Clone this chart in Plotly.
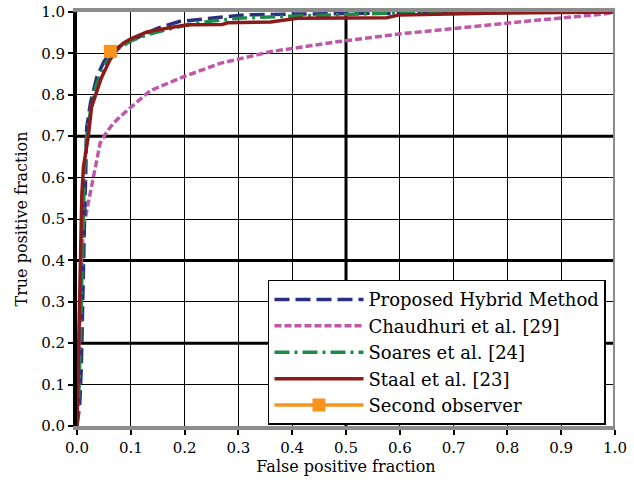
import plotly.graph_objects as go

# ---- data ----
hybrid_fpr = [0, 0.005, 0.008, 0.01, 0.012, 0.014, 0.016, 0.018, 0.025, 0.037, 0.05, 0.061, 0.08, 0.1, 0.125, 0.148, 0.19, 0.25, 0.31, 0.4, 0.5, 0.65, 0.8, 1.0]
hybrid_tpr = [0, 0.05, 0.14, 0.3, 0.4, 0.5, 0.6, 0.72, 0.78, 0.844, 0.88, 0.90, 0.918, 0.93, 0.945, 0.96, 0.977, 0.985, 0.993, 0.995, 0.997, 0.998, 1.0, 1.0]

chaud_fpr = [0, 0.002, 0.003, 0.005, 0.008, 0.012, 0.018, 0.024, 0.033, 0.043, 0.055, 0.067, 0.08, 0.1, 0.136, 0.197, 0.266, 0.359, 0.483, 0.606, 0.73, 0.854, 0.978, 1.0]
chaud_tpr = [0, 0.1, 0.2, 0.3, 0.4, 0.48, 0.52, 0.56, 0.626, 0.683, 0.71, 0.73, 0.747, 0.77, 0.81, 0.843, 0.876, 0.904, 0.928, 0.948, 0.965, 0.98, 0.995, 1.0]

soares_fpr = [0, 0.004, 0.008, 0.011, 0.014, 0.018, 0.025, 0.035, 0.05, 0.065, 0.08, 0.1, 0.13, 0.16, 0.2, 0.25, 0.3, 0.4, 0.5, 0.6, 0.75, 1.0]
soares_tpr = [0, 0.1, 0.3, 0.5, 0.62, 0.7, 0.76, 0.82, 0.87, 0.895, 0.915, 0.93, 0.945, 0.955, 0.968, 0.978, 0.985, 0.99, 0.995, 0.998, 1.0, 1.0]

staal_fpr = [0, 0.0025, 0.006, 0.009, 0.012, 0.021, 0.027, 0.035, 0.045, 0.061, 0.075, 0.086, 0.1, 0.13, 0.16, 0.185, 0.21, 0.27, 0.28, 0.36, 0.41, 0.575, 0.6, 0.76, 1.0]
staal_tpr = [0, 0.143, 0.385, 0.56, 0.626, 0.70, 0.77, 0.8, 0.84, 0.884, 0.91, 0.925, 0.935, 0.952, 0.96, 0.965, 0.969, 0.97, 0.974, 0.976, 0.985, 0.986, 0.993, 0.997, 1.0]

observer_fpr = [0.062]
observer_tpr = [0.905]

tick_vals = [round(i * 0.1, 1) for i in range(11)]
tick_text = [f"{v:.1f}" for v in tick_vals]
thick_y = [0.2, 0.4, 0.7]
thick_x = [0.5]

FONT = "DejaVu Serif"

fig = go.Figure()
fig.add_trace(go.Scatter(x=chaud_fpr, y=chaud_tpr, mode="lines", name="Chaudhuri et al. [29]",
                         line=dict(color="#C058A8", width=3.5, dash="7px,3px"), legendrank=2))
fig.add_trace(go.Scatter(x=hybrid_fpr, y=hybrid_tpr, mode="lines", name="Proposed Hybrid Method",
                         line=dict(color="#2B2F80", width=3.5, dash="15px,6px"), legendrank=1))
fig.add_trace(go.Scatter(x=soares_fpr, y=soares_tpr, mode="lines", name="Soares et al. [24]",
                         line=dict(color="#1E8A4A", width=3.5, dash="15px,5px,3px,5px"), legendrank=3))
fig.add_trace(go.Scatter(x=staal_fpr, y=staal_tpr, mode="lines", name="Staal et al. [23]",
                         line=dict(color="#8B1A1A", width=3.5), legendrank=4))
fig.add_trace(go.Scatter(x=observer_fpr, y=observer_tpr, mode="lines+markers", name="Second observer",
                         line=dict(color="#F7941D", width=3.5),
                         marker=dict(symbol="square", size=13, color="#F7941D"), legendrank=5))

shapes = []
for v in thick_y:
    shapes.append(dict(type="line", xref="x", yref="y", x0=0, x1=1, y0=v, y1=v,
                       line=dict(color="black", width=3), layer="below"))
for v in thick_x:
    shapes.append(dict(type="line", xref="x", yref="y", x0=v, x1=v, y0=0, y1=1,
                       line=dict(color="black", width=3), layer="below"))
shapes.append(dict(type="line", xref="x", yref="y", x0=1, x1=1, y0=0, y1=1,
                   line=dict(color="#8C8C8C", width=4)))

fig.update_layout(
    width=634, height=481,
    margin=dict(l=77, r=19, t=12, b=55, autoexpand=False),
    paper_bgcolor="white", plot_bgcolor="white",
    font=dict(family=FONT, size=15, color="black"),
    shapes=shapes,
    showlegend=True,
    legend=dict(x=0.355, y=0.003, xanchor="left", yanchor="bottom",
                bgcolor="white", bordercolor="black", borderwidth=1.5,
                font=dict(family=FONT, size=18, color="black"),
                tracegroupgap=0, itemwidth=89),
    xaxis=dict(range=[0, 1], tickvals=tick_vals, ticktext=tick_text,
               showgrid=True, gridcolor="black", gridwidth=1.3,
               showline=True, linecolor="#8C8C8C", linewidth=4, mirror=True,
               ticks="outside", ticklen=5, tickcolor="black", tickwidth=1.5,
               zeroline=False, automargin=False, ticklabeloverflow="allow",
               title=dict(text="False positive fraction", font=dict(family=FONT, size=16), standoff=6),
               tickfont=dict(family=FONT, size=15)),
    yaxis=dict(range=[0, 1], tickvals=tick_vals, ticktext=tick_text,
               showgrid=True, gridcolor="black", gridwidth=1.3,
               showline=True, linecolor="black", linewidth=4,
               ticks="outside", ticklen=5, tickcolor="black", tickwidth=1.5,
               zeroline=False, automargin=False, ticklabeloverflow="allow",
               title=dict(text="True positive fraction", font=dict(family=FONT, size=16), standoff=11),
               tickfont=dict(family=FONT, size=15)),
)

fig.write_html("out.html", config={"displayModeBar": False},
               post_script="document.body.style.margin='0px';")
